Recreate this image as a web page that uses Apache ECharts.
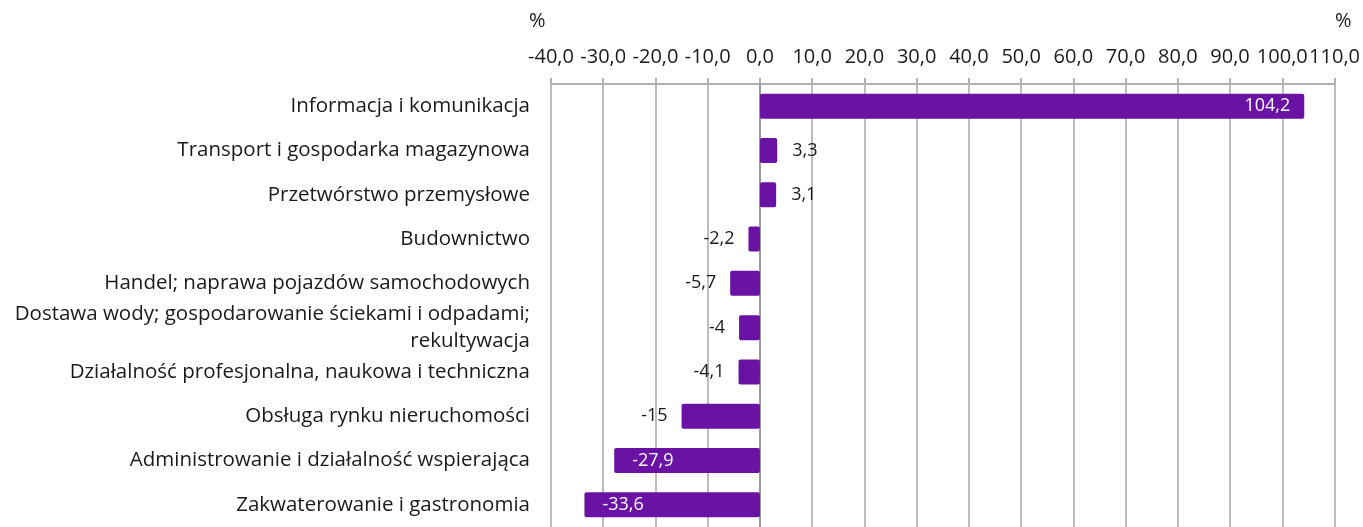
<!DOCTYPE html>
<html>
<head>
<meta charset="utf-8">
<script src="https://cdn.jsdelivr.net/npm/echarts@6/dist/echarts.min.js"></script>
<style>
  html, body { margin: 0; padding: 0; background: #fff; }
  #chart { width: 1363px; height: 527px; }
</style>
</head>
<body>
<div id="chart"></div>
<script>
// kategorie (od góry do dołu)
const categories = [
  'Informacja i komunikacja',
  'Transport i gospodarka magazynowa',
  'Przetwórstwo przemysłowe',
  'Budownictwo',
  'Handel; naprawa pojazdów samochodowych',
  'Dostawa wody; gospodarowanie ściekami i odpadami;\nrekultywacja',
  'Działalność profesjonalna, naukowa i techniczna',
  'Obsługa rynku nieruchomości',
  'Administrowanie i działalność wspierająca',
  'Zakwaterowanie i gastronomia'
];
const values = [104.2, 3.3, 3.1, -2.2, -5.7, -4, -4.1, -15, -27.9, -33.6];
const axisMin = -40;
const axisMax = 110;
const axisStep = 10;

const FONT = '"Open Sans", "Noto Sans", sans-serif';
const TXT = '#1a1a1a';
const barColor = '#6a12a3';

const fmt = v => String(v).replace('.', ',');

// etykiety: duże słupki - wewnątrz, małe - na zewnątrz
const seriesData = values.map(v => {
  let label;
  if (v > 50) {
    label = { position: 'insideRight', color: '#fff', distance: 14 };
  } else if (v < -20) {
    label = { position: 'insideLeft', color: '#fff', distance: 18 };
  } else if (v >= 0) {
    label = { position: 'right', color: TXT, distance: 15 };
  } else {
    label = { position: 'left', color: TXT, distance: 14 };
  }
  return { value: v, label };
});

const chart = echarts.init(document.getElementById('chart'));

chart.setOption({
  animation: false,
  grid: { left: 551, right: 28, top: 84, height: 450, containLabel: false },
  xAxis: {
    type: 'value',
    position: 'top',
    min: axisMin,
    max: axisMax,
    interval: axisStep,
    axisLine: { show: true, onZero: false, lineStyle: { color: '#b0b0b0', width: 2 } },
    axisTick: { show: true, length: 6, lineStyle: { color: '#b0b0b0', width: 2 } },
    axisLabel: {
      fontFamily: FONT, fontSize: 20, color: TXT, margin: 17,
      formatter: v => v.toFixed(1).replace('.', ',')
    },
    splitLine: {
      show: true,
      lineStyle: { color: '#bdbdbd', width: 2 }
    }
  },
  yAxis: {
    type: 'category',
    inverse: true,
    data: categories,
    axisLine: { show: false, onZero: false },
    axisTick: { show: false },
    axisLabel: {
      fontFamily: FONT, fontSize: 20.5, color: TXT, margin: 21,
      align: 'right', lineHeight: 27
    }
  },
  graphic: [
    { type: 'text', left: 529, top: 11, style: { text: '%', fontFamily: FONT, fontSize: 20, fill: TXT } },
    { type: 'text', left: 1335, top: 11, style: { text: '%', fontFamily: FONT, fontSize: 20, fill: TXT } },
    // linia zera ciemniejsza
    { type: 'line', shape: { x1: 760, y1: 84, x2: 760, y2: 527 }, style: { stroke: '#9a9a9a', lineWidth: 2 }, z: 5 }
  ],
  series: [{
    type: 'bar',
    data: seriesData,
    barWidth: 25,
    z: 10,
    itemStyle: { color: barColor, borderRadius: 2 },
    label: {
      show: true,
      fontFamily: FONT,
      fontSize: 18,
      formatter: p => fmt(p.value)
    }
  }]
});
</script>
</body>
</html>
